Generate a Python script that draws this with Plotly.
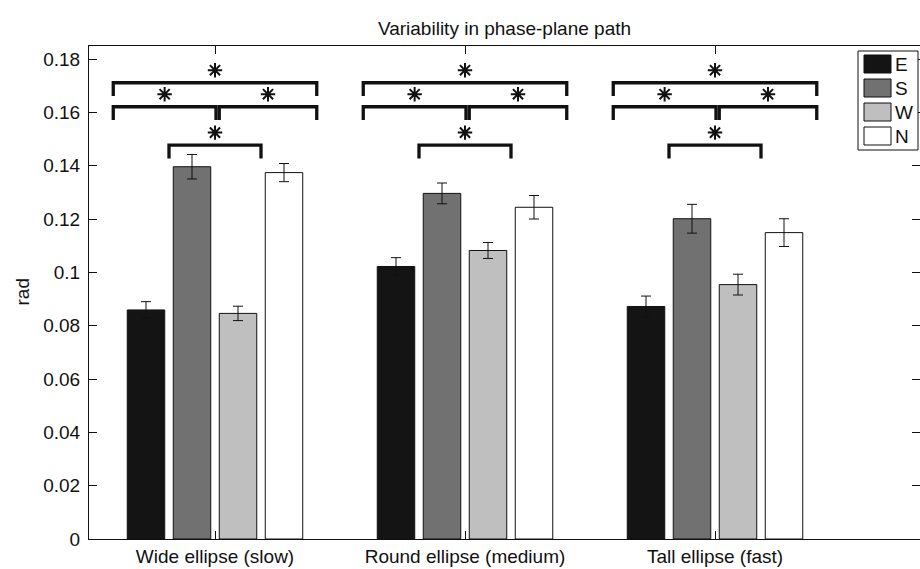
import plotly.graph_objects as go

# ---------------- data ----------------
categories = ["Wide ellipse (slow)", "Round ellipse (medium)", "Tall ellipse (fast)"]
series_names = ["E", "S", "W", "N"]
series_colors = ["#141414", "#717171", "#bfbfbf", "#ffffff"]
values_E = [0.0859, 0.1022, 0.0872]
values_S = [0.1396, 0.1296, 0.1201]
values_W = [0.0846, 0.1082, 0.0954]
values_N = [0.1374, 0.1244, 0.1149]
err_E = [0.0031, 0.0033, 0.0039]
err_S = [0.0046, 0.0039, 0.0054]
err_W = [0.0027, 0.0030, 0.0039]
err_N = [0.0034, 0.0044, 0.0052]
ytick_vals = [0, 0.02, 0.04, 0.06, 0.08, 0.10, 0.12, 0.14, 0.16, 0.18]
ytick_text = ["0", "0.02", "0.04", "0.06", "0.08", "0.1", "0.12", "0.14", "0.16", "0.18"]
title_text = "Variability in phase-plane path"
ylabel_text = "rad"

values = [values_E, values_S, values_W, values_N]
errors = [err_E, err_S, err_W, err_N]
xpos = [1, 2, 3]

# ---------------- geometry / style ----------------
W, H = 920, 569
ML, MR, MT, MB = 89, 0, 46, 30
PW, PH = W - ML - MR, H - MT - MB
XR = [0.496, 0.496 + PW / 250.0]
YR = [0, 0.184875]
FONT = "Liberation Sans, Arial, Helvetica, sans-serif"
FS = 19
INK = "#111111"

def px_x(px):
    return (px - ML) / PW

def px_y(py):
    return (H - MB - py) / PH

fig = go.Figure()
for name, col, vals, errs in zip(series_names, series_colors, values, errors):
    fig.add_trace(go.Bar(
        x=xpos, y=vals, name=name,
        marker=dict(color=col, line=dict(color=INK, width=1)),
        error_y=dict(type="data", array=errs, visible=True, color=INK, thickness=1, width=5),
        showlegend=False,
    ))

# significance brackets (offsets relative to each group centre)
brackets = [  # (left offset, right offset, bar-level y)
    (-0.407, 0.407, 0.1711),
    (-0.407, 0.004, 0.1621),
    (0.017, 0.407, 0.1621),
    (-0.184, 0.184, 0.1477),
]
leg = 0.005
star_dy = 0.0047
star_x, star_y = [], []
shapes = []
for c in xpos:
    for lo, hi, yb in brackets:
        x0, x1 = c + lo, c + hi
        shapes.append(dict(type="path", xref="x", yref="y",
                           path=f"M {x0},{yb - leg} L {x0},{yb} L {x1},{yb} L {x1},{yb - leg}",
                           line=dict(color=INK, width=3.3)))
        star_x.append((x0 + x1) / 2)
        star_y.append(yb + star_dy)

fig.add_trace(go.Scatter(
    x=star_x, y=star_y, mode="markers", yaxis="y2", showlegend=False,
    marker=dict(symbol="asterisk-open", size=12, color=INK, line=dict(color=INK, width=2)),
    hoverinfo="skip",
))

# manual legend
shapes.append(dict(type="rect", xref="paper", yref="paper",
                   x0=px_x(858), x1=px_x(918), y0=px_y(150), y1=px_y(51),
                   line=dict(color=INK, width=1), fillcolor="white", layer="above"))
annotations = []
for i, (name, col) in enumerate(zip(series_names, series_colors)):
    top = 55 + 24 * i
    shapes.append(dict(type="rect", xref="paper", yref="paper",
                       x0=px_x(864), x1=px_x(891), y0=px_y(top + 18), y1=px_y(top),
                       line=dict(color=INK, width=1), fillcolor=col, layer="above"))
    annotations.append(dict(xref="paper", yref="paper", x=px_x(893), y=px_y(top + 9),
                            text=name, showarrow=False, xanchor="left", yanchor="middle",
                            font=dict(family=FONT, size=FS, color=INK)))

annotations.append(dict(xref="paper", yref="paper", x=px_x(22), y=0.5, text=ylabel_text,
                        textangle=-90, showarrow=False, xanchor="center", yanchor="middle",
                        font=dict(family=FONT, size=FS, color=INK)))

fig.update_layout(
    width=W, height=H,
    margin=dict(l=ML, r=MR, t=MT, b=MB, pad=0),
    paper_bgcolor="white", plot_bgcolor="white",
    barmode="group", bargap=0.264, bargroupgap=0.185,
    font=dict(family=FONT, size=FS, color=INK),
    title=dict(text=title_text, x=0.5, xref="paper", xanchor="center",
               y=1 - 28 / H, yref="container", yanchor="middle",
               font=dict(family=FONT, size=FS, color=INK)),
    xaxis=dict(range=XR, tickvals=xpos, ticktext=categories, ticks="inside", ticklen=8,
               tickcolor=INK, showline=True, linecolor=INK, linewidth=1,
               mirror="ticks", showgrid=False, zeroline=False, fixedrange=True),
    yaxis=dict(range=YR, tickvals=ytick_vals, ticktext=ytick_text, ticks="inside", ticklen=8,
               tickcolor=INK, showline=True, linecolor=INK, linewidth=1,
               mirror=False, showgrid=False, zeroline=False, ticklabelstandoff=4),
    yaxis2=dict(range=YR, overlaying="y", side="right", tickvals=ytick_vals, ticks="inside",
                ticklen=8, tickcolor=INK, showticklabels=False, showline=False,
                showgrid=False, zeroline=False),
    shapes=shapes,
    annotations=annotations,
)

fig.write_html("out.html")
